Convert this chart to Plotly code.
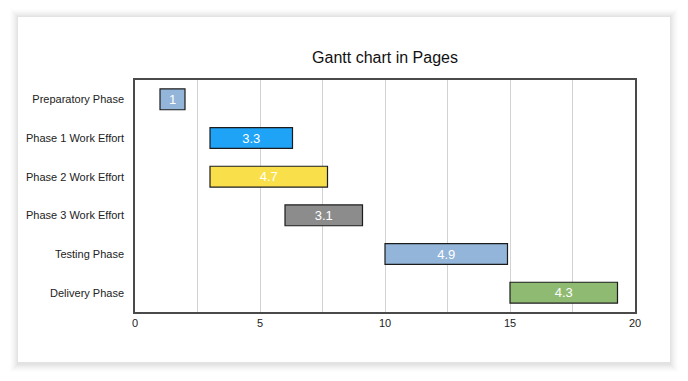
import plotly.graph_objects as go

tasks = ["Preparatory Phase", "Phase 1 Work Effort", "Phase 2 Work Effort",
         "Phase 3 Work Effort", "Testing Phase", "Delivery Phase"]
starts = [1, 3, 3, 6, 10, 15]
durations = [1, 3.3, 4.7, 3.1, 4.9, 4.3]
colors = ["#93b5d9", "#1ea3f7", "#f9e04b", "#8c8c8c", "#93b5d9", "#8fba72"]
x_ticks = [0, 5, 10, 15, 20]

# page body has an 8px margin, so the figure is drawn 8px in from the window edge
OFF = 8
W, H = 688 - OFF, 381 - OFF
L, R, T, B = 135 - OFF, 635 - OFF, 80 - OFF, 312 - OFF


def px(x):
    return (x - OFF - L) / (R - L)


def py(y):
    return (B - (y - OFF)) / (B - T)


fig = go.Figure()
fig.add_trace(go.Bar(
    y=tasks, x=durations, base=starts, orientation="h",
    marker=dict(color=colors, line=dict(color="#1c1c1c", width=1.2)),
    width=0.54,
    text=[str(d) for d in durations], textposition="inside", textangle=0,
    insidetextanchor="middle", constraintext="none",
    textfont=dict(color="white", size=13, family="Liberation Sans, Arial"),
    hoverinfo="skip", showlegend=False,
))

shapes = []
# soft card shadow
cx0, cy0, cx1, cy1 = 18, 17, 670, 362
for i, a in enumerate([0.006, 0.008, 0.010, 0.012, 0.014, 0.016, 0.018, 0.020]):
    d = 8 - i
    shapes.append(dict(type="rect", xref="paper", yref="paper", layer="below",
                       x0=px(cx0 - d), x1=px(cx1 + d), y0=py(cy1 + d + 2), y1=py(cy0 - d),
                       fillcolor=f"rgba(0,0,0,{a})", line=dict(width=0)))
shapes.append(dict(type="rect", xref="paper", yref="paper", layer="below",
                   x0=px(cx0), x1=px(cx1), y0=py(cy1), y1=py(cy0),
                   fillcolor="white", line=dict(width=0)))

fig.update_layout(
    width=W, height=H,
    margin=dict(l=L, r=W - R, t=T, b=H - B, pad=0),
    paper_bgcolor="white", plot_bgcolor="rgba(0,0,0,0)",
    font=dict(family="Liberation Sans, Arial, sans-serif", color="#222", size=11),
    title=dict(text="Gantt chart in Pages", x=px(385), xref="paper", xanchor="center",
               y=1 - (57 - OFF) / H, yanchor="middle",
               font=dict(size=16, color="#111")),
    shapes=shapes,
    xaxis=dict(range=[0, 20], tickvals=x_ticks, ticktext=[str(v) for v in x_ticks],
               showgrid=True, gridcolor="#d2d2d2", gridwidth=1,
               minor=dict(dtick=2.5, tick0=0, showgrid=True, gridcolor="#d2d2d2", gridwidth=1),
               showline=True, linecolor="#4a4a4a", linewidth=1.5, mirror=True,
               zeroline=False, ticks="", ticklen=0,
               tickfont=dict(size=11, color="#222")),
    yaxis=dict(categoryorder="array", categoryarray=tasks, autorange="reversed",
               showgrid=False, showline=True, linecolor="#4a4a4a", linewidth=1.5, mirror=True,
               zeroline=False, ticks="outside", ticklen=7, tickcolor="rgba(0,0,0,0)",
               tickfont=dict(size=11, color="#222")),
    bargap=0.46,
)

fig.write_html("out.html")
